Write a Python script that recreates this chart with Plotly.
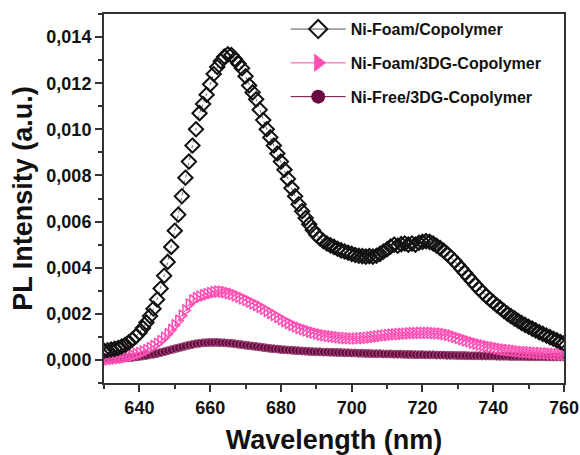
import plotly.graph_objects as go

wavelength = list(range(630, 761))

ni_foam_copolymer = [
    0.00040, 0.00042, 0.00045, 0.00048, 0.00052, 0.00058, 0.00066, 0.00076, 0.00088, 0.00102,  # 630-639
    0.00118, 0.00138, 0.00162, 0.00190, 0.00222, 0.00262, 0.00310, 0.00365, 0.00425, 0.00490,  # 640-649
    0.00560, 0.00630, 0.00710, 0.00790, 0.00860, 0.00930, 0.01000, 0.01070, 0.01110, 0.01150,  # 650-659
    0.01195, 0.01240, 0.01270, 0.01295, 0.01315, 0.01325, 0.01322, 0.01305, 0.01285, 0.01265,  # 660-669
    0.01230, 0.01190, 0.01160, 0.01130, 0.01085, 0.01040, 0.01000, 0.00965, 0.00930, 0.00895,  # 670-679
    0.00860, 0.00825, 0.00785, 0.00745, 0.00710, 0.00675, 0.00645, 0.00615, 0.00588, 0.00563,  # 680-689
    0.00543, 0.00528, 0.00515, 0.00505, 0.00497, 0.00490, 0.00482, 0.00475, 0.00470, 0.00465,  # 690-699
    0.00460, 0.00455, 0.00452, 0.00450, 0.00448, 0.00450, 0.00448, 0.00452, 0.00460, 0.00470,  # 700-709
    0.00480, 0.00492, 0.00500, 0.00495, 0.00502, 0.00505, 0.00500, 0.00505, 0.00500, 0.00508,  # 710-719
    0.00512, 0.00515, 0.00512, 0.00505, 0.00495, 0.00485, 0.00473, 0.00460, 0.00445, 0.00430,  # 720-729
    0.00413, 0.00395, 0.00378, 0.00360, 0.00342, 0.00325, 0.00308, 0.00292, 0.00278, 0.00263,  # 730-739
    0.00250, 0.00237, 0.00225, 0.00212, 0.00200, 0.00190, 0.00180, 0.00170, 0.00160, 0.00152,  # 740-749
    0.00144, 0.00136, 0.00128, 0.00120, 0.00113, 0.00106, 0.00099, 0.00092, 0.00085, 0.00078,  # 750-759
    0.00072,                                                                                    # 760
]

ni_foam_3dg_copolymer = [
    0.00000, 0.00002, 0.00004, 0.00006, 0.00008, 0.00010, 0.00013, 0.00016, 0.00020, 0.00025,  # 630-639
    0.00030, 0.00036, 0.00043, 0.00051, 0.00060, 0.00070, 0.00082, 0.00096, 0.00112, 0.00130,  # 640-649
    0.00150, 0.00170, 0.00192, 0.00215, 0.00240, 0.00258, 0.00268, 0.00275, 0.00280, 0.00285,  # 650-659
    0.00290, 0.00294, 0.00296, 0.00296, 0.00294, 0.00290, 0.00286, 0.00280, 0.00274, 0.00267,  # 660-669
    0.00260, 0.00253, 0.00245, 0.00238, 0.00230, 0.00222, 0.00213, 0.00204, 0.00195, 0.00186,  # 670-679
    0.00177, 0.00168, 0.00160, 0.00152, 0.00145, 0.00139, 0.00133, 0.00128, 0.00123, 0.00118,  # 680-689
    0.00114, 0.00110, 0.00107, 0.00104, 0.00102, 0.00100, 0.00098, 0.00096, 0.00095, 0.00094,  # 690-699
    0.00093, 0.00093, 0.00094, 0.00095, 0.00096, 0.00098, 0.00100, 0.00102, 0.00104, 0.00106,  # 700-709
    0.00108, 0.00110, 0.00111, 0.00112, 0.00113, 0.00114, 0.00115, 0.00116, 0.00116, 0.00117,  # 710-719
    0.00117, 0.00117, 0.00117, 0.00116, 0.00115, 0.00114, 0.00112, 0.00109, 0.00105, 0.00100,  # 720-729
    0.00095, 0.00090, 0.00085, 0.00080, 0.00075, 0.00071, 0.00067, 0.00063, 0.00059, 0.00056,  # 730-739
    0.00053, 0.00050, 0.00047, 0.00045, 0.00043, 0.00041, 0.00039, 0.00037, 0.00035, 0.00034,  # 740-749
    0.00033, 0.00032, 0.00031, 0.00030, 0.00029, 0.00028, 0.00027, 0.00026, 0.00025, 0.00024,  # 750-759
    0.00023,                                                                                    # 760
]

ni_free_3dg_copolymer = [
    0.00005, 0.00005, 0.00006, 0.00006, 0.00007, 0.00008, 0.00009, 0.00010, 0.00011, 0.00013,  # 630-639
    0.00015, 0.00017, 0.00019, 0.00022, 0.00025, 0.00028, 0.00032, 0.00036, 0.00040, 0.00044,  # 640-649
    0.00048, 0.00052, 0.00056, 0.00060, 0.00064, 0.00067, 0.00070, 0.00072, 0.00074, 0.00075,  # 650-659
    0.00076, 0.00076, 0.00076, 0.00075, 0.00074, 0.00073, 0.00072, 0.00070, 0.00068, 0.00066,  # 660-669
    0.00064, 0.00062, 0.00060, 0.00058, 0.00056, 0.00054, 0.00052, 0.00050, 0.00048, 0.00047,  # 670-679
    0.00045, 0.00044, 0.00043, 0.00042, 0.00041, 0.00040, 0.00039, 0.00038, 0.00037, 0.00036,  # 680-689
    0.00035, 0.00035, 0.00034, 0.00034, 0.00033, 0.00033, 0.00032, 0.00032, 0.00031, 0.00031,  # 690-699
    0.00030, 0.00030, 0.00029, 0.00029, 0.00028, 0.00028, 0.00027, 0.00027, 0.00027, 0.00026,  # 700-709
    0.00026, 0.00026, 0.00025, 0.00025, 0.00025, 0.00024, 0.00024, 0.00024, 0.00023, 0.00023,  # 710-719
    0.00023, 0.00022, 0.00022, 0.00022, 0.00021, 0.00021, 0.00021, 0.00020, 0.00020, 0.00020,  # 720-729
    0.00019, 0.00019, 0.00019, 0.00018, 0.00018, 0.00018, 0.00018, 0.00017, 0.00017, 0.00017,  # 730-739
    0.00017, 0.00016, 0.00016, 0.00016, 0.00016, 0.00015, 0.00015, 0.00015, 0.00015, 0.00015,  # 740-749
    0.00014, 0.00014, 0.00014, 0.00014, 0.00014, 0.00013, 0.00013, 0.00013, 0.00013, 0.00013,  # 750-759
    0.00013,                                                                                    # 760
]

series_names = ["Ni-Foam/Copolymer", "Ni-Foam/3DG-Copolymer", "Ni-Free/3DG-Copolymer"]
x_ticks = [640, 660, 680, 700, 720, 740, 760]
y_ticks = [0.000, 0.002, 0.004, 0.006, 0.008, 0.010, 0.012, 0.014]

BLACK = "#111111"
PINK = "#ff4fb4"
PURPLE = "#6a0a40"
FONT = "Liberation Sans"

fig = go.Figure()

# data traces (drawn back to front)
fig.add_trace(go.Scatter(
    x=wavelength, y=ni_free_3dg_copolymer, mode="lines+markers", showlegend=False,
    line=dict(color=PURPLE, width=1),
    marker=dict(symbol="circle", size=8, color=PURPLE, line=dict(color="#a2557f", width=1)),
))
fig.add_trace(go.Scatter(
    x=wavelength, y=ni_foam_3dg_copolymer, mode="lines+markers", showlegend=False,
    line=dict(color=PINK, width=1),
    marker=dict(symbol="triangle-right-open", size=10, color=PINK, line=dict(width=1.5)),
))
fig.add_trace(go.Scatter(
    x=wavelength, y=ni_foam_copolymer, mode="lines+markers", showlegend=False,
    line=dict(color="#666666", width=1, dash="dot"),
    marker=dict(symbol="diamond-open", size=11, color=BLACK, line=dict(width=2)),
))

# legend entries
legend_styles = [
    dict(line=dict(color="#555555", width=1),
         marker=dict(symbol="diamond-open", size=14, color=BLACK, line=dict(width=2))),
    dict(line=dict(color=PINK, width=1),
         marker=dict(symbol="triangle-right", size=16, color=PINK)),
    dict(line=dict(color=PURPLE, width=1),
         marker=dict(symbol="circle", size=14, color=PURPLE)),
]
for i, (name, st) in enumerate(zip(series_names, legend_styles)):
    fig.add_trace(go.Scatter(x=[None], y=[None], mode="lines+markers", name=name,
                             legendgroup=f"g{i}", **st))

axis_common = dict(
    showline=True, linecolor="#333333", linewidth=2, mirror=True,
    ticks="outside", tickcolor="#333333", tickwidth=1.5, ticklen=7,
    showgrid=False, zeroline=False, automargin=False,
    tickfont=dict(family=FONT, size=18, color=BLACK, weight="bold"),
)

fig.update_xaxes(
    range=[630, 760], tickvals=x_ticks,
    minor=dict(dtick=10, tick0=630, ticks="outside", ticklen=4, tickcolor="#333333", tickwidth=1.5),
    title=dict(text="Wavelength (nm)", font=dict(family=FONT, size=27, color=BLACK, weight="bold"),
               standoff=18),
    **axis_common,
)
fig.update_yaxes(
    range=[-0.001, 0.015], tickvals=y_ticks, tickformat=".3f",
    minor=dict(dtick=0.001, tick0=-0.001, ticks="outside", ticklen=4, tickcolor="#333333", tickwidth=1.5),
    title=dict(text="PL Intensity (a.u.)", font=dict(family=FONT, size=27, color=BLACK, weight="bold"),
               standoff=6),
    **axis_common,
)

fig.update_layout(
    width=580, height=455,
    margin=dict(l=104, r=16, t=14, b=72, autoexpand=False),
    paper_bgcolor="white", plot_bgcolor="white",
    separators=",.",
    showlegend=True,
    legend=dict(
        x=0.395, y=1.005, xanchor="left", yanchor="top",
        bgcolor="rgba(0,0,0,0)", borderwidth=0,
        traceorder="grouped", tracegroupgap=10, itemwidth=55,
        font=dict(family=FONT, size=16, color=BLACK, weight="bold"),
    ),
)

fig.write_html("out.html")
